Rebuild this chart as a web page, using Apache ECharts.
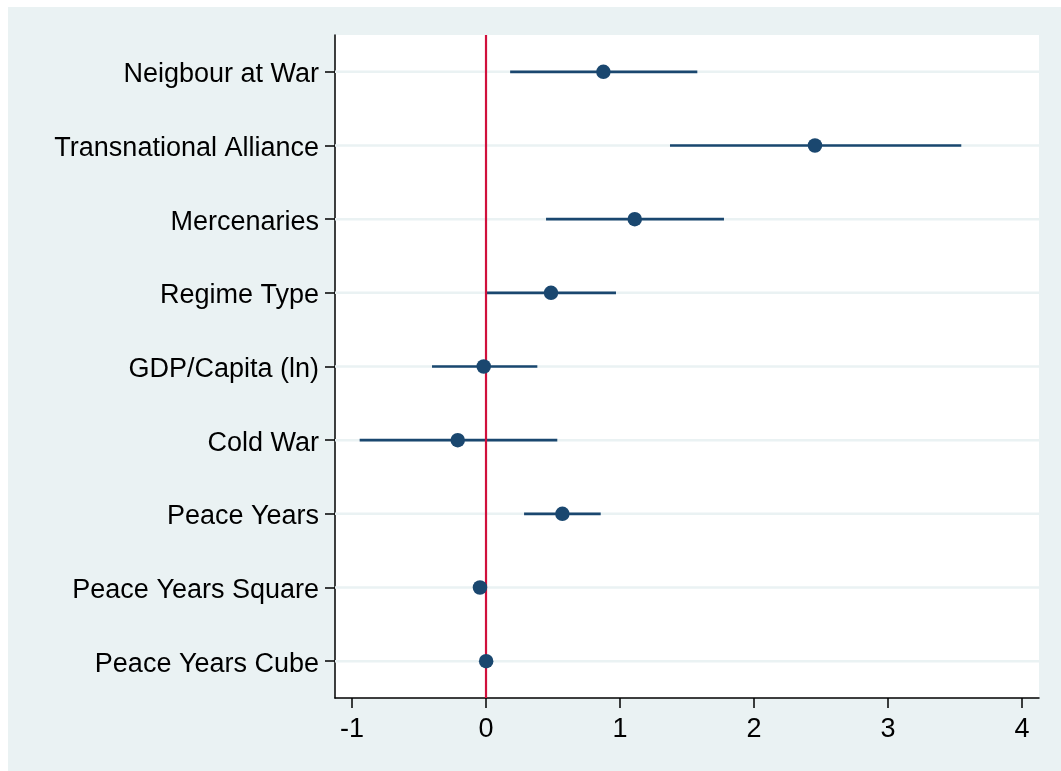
<!DOCTYPE html>
<html>
<head>
<meta charset="utf-8">
<script src="https://cdn.jsdelivr.net/npm/echarts@6/dist/echarts.min.js"></script>
<style>
html,body{margin:0;padding:0;background:#ffffff;width:1061px;height:771px;overflow:hidden;}
#chart{position:absolute;left:8px;top:7px;width:1053px;height:764px;}
</style>
</head>
<body>
<div id="chart"></div>
<script>
const categories = ["Neigbour at War","Transnational Alliance","Mercenaries","Regime Type","GDP/Capita (ln)","Cold War","Peace Years","Peace Years Square","Peace Years Cube"];
const estimates = [0.876, 2.455, 1.11, 0.485, -0.017, -0.211, 0.57, -0.045, 0.001];
const lower = [0.18, 1.373, 0.448, 0.007, -0.403, -0.943, 0.284, -0.06, -0.004];
const upper = [1.577, 3.547, 1.776, 0.97, 0.383, 0.532, 0.856, -0.03, 0.006];
const xTicks = [-1, 0, 1, 2, 3, 4];
const refLine = [0];

const navy = '#1A476F';
const font = '"Liberation Sans", Arial, sans-serif';

const chart = echarts.init(document.getElementById('chart'), null, {renderer: 'canvas'});
chart.setOption({
  backgroundColor: '#EAF2F3',
  animation: false,
  grid: {left: 327, top: 28, right: 22, bottom: 73, show: true, backgroundColor: '#ffffff', borderWidth: 0},
  xAxis: {
    type: 'value', min: -1.127, max: 4.127,
    axisLine: {show: true, onZero: false, lineStyle: {color: '#000', width: 1.5}},
    axisTick: {show: true, length: 10, customValues: xTicks, lineStyle: {color: '#000', width: 1.5}},
    axisLabel: {customValues: xTicks, margin: 18, color: '#000', fontSize: 27, fontFamily: font},
    splitLine: {show: false}
  },
  yAxis: {
    type: 'category', data: categories, inverse: true,
    axisLine: {show: true, onZero: false, lineStyle: {color: '#000', width: 1.5}},
    axisTick: {show: true, alignWithLabel: true, length: 10, lineStyle: {color: '#000', width: 1.5}},
    axisLabel: {
      margin: 16, color: '#000', fontSize: 27, fontFamily: font,
      formatter: v => '{a|' + v + '}',
      rich: {a: {color: '#000', fontSize: 27, fontFamily: font, padding: [6, 0, 0, 0]}}
    },
    splitLine: {show: false}
  },
  series: [
    {
      type: 'custom', z: 1, silent: true,
      data: categories.map((c, i) => [i]),
      encode: {y: 0},
      renderItem: function (params, api) {
        const cs = params.coordSys;
        const p = api.coord([0, api.value(0)]);
        return {type: 'line', shape: {x1: cs.x, y1: p[1], x2: cs.x + cs.width, y2: p[1]},
                style: {stroke: '#EAF2F3', lineWidth: 2.5}};
      }
    },
    {
      type: 'custom', z: 2, silent: true,
      data: categories.map((c, i) => [lower[i], upper[i], i]),
      encode: {x: [0, 1], y: 2},
      renderItem: function (params, api) {
        const p1 = api.coord([api.value(0), api.value(2)]);
        const p2 = api.coord([api.value(1), api.value(2)]);
        return {type: 'line', shape: {x1: p1[0], y1: p1[1], x2: p2[0], y2: p2[1]},
                style: {stroke: navy, lineWidth: 2.6}};
      }
    },
    {
      type: 'custom', z: 3, silent: true,
      data: refLine.map(v => [v]),
      encode: {x: 0},
      renderItem: function (params, api) {
        const cs = params.coordSys;
        const p = api.coord([api.value(0), 0]);
        return {type: 'line', shape: {x1: p[0], y1: cs.y, x2: p[0], y2: cs.y + cs.height},
                style: {stroke: '#D0103C', lineWidth: 2.2}};
      }
    },
    {
      type: 'scatter', z: 4, silent: true,
      symbol: 'circle', symbolSize: 14.5,
      itemStyle: {color: navy, opacity: 1},
      data: estimates.map((v, i) => [v, i])
    }
  ]
});
</script>
</body>
</html>
